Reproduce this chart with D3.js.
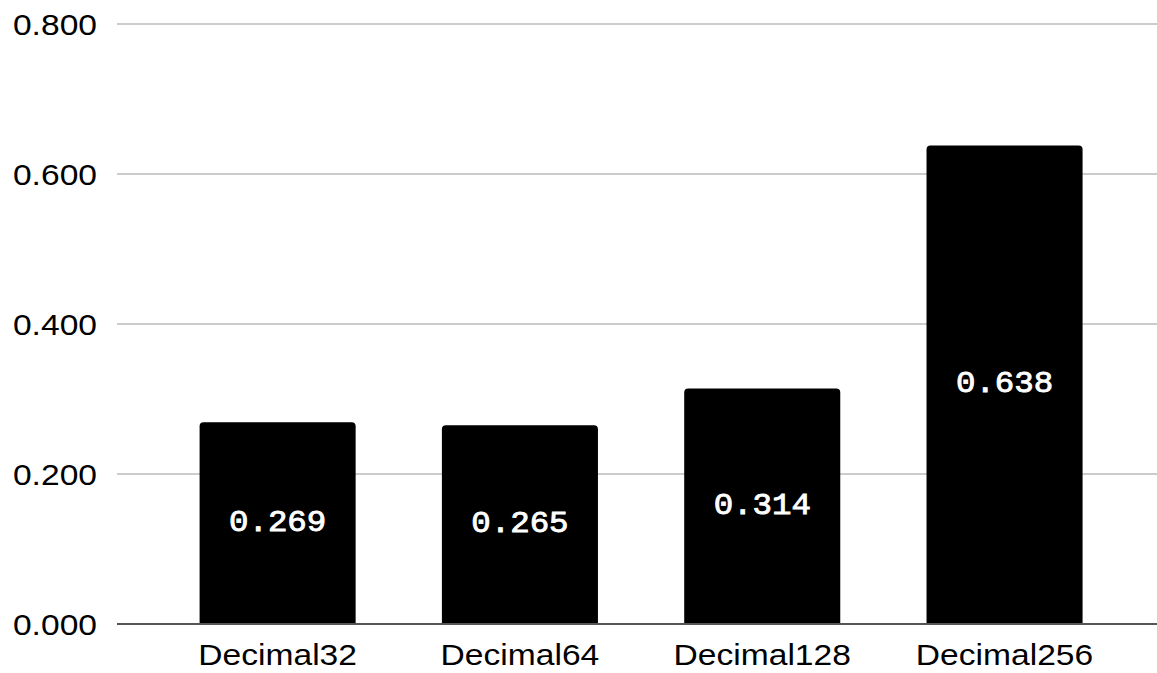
<!DOCTYPE html>
<html>
<head>
<meta charset="utf-8">
<script src="https://cdn.jsdelivr.net/npm/d3@7"></script>
<style>
  html, body { margin: 0; padding: 0; background: #fff; }
  svg { display: block; }
</style>
</head>
<body>
<div id="chart"></div>
<script>
// 数据
const categories = ['Decimal32', 'Decimal64', 'Decimal128', 'Decimal256'];
const values = [0.269, 0.265, 0.314, 0.638];
const yTicks = [0, 0.2, 0.4, 0.6, 0.8];

const width = 1157, height = 673;
const margin = { top: 24, right: 0, bottom: 48, left: 117 };
const sx = 1.12; // 文字横向拉伸

const svg = d3.select('#chart').append('svg')
    .attr('width', width).attr('height', height);

const x = d3.scaleBand()
    .domain(categories)
    .range([margin.left, width - margin.right])
    .paddingInner(0.356)
    .paddingOuter(0.324)
    .align(0.526);

const y = d3.scaleLinear()
    .domain([0, 0.8])
    .range([height - margin.bottom - 1, margin.top]);

// 网格线
svg.append('g').selectAll('line')
    .data(yTicks.slice(1))
    .join('line')
    .attr('x1', margin.left).attr('x2', width)
    .attr('y1', d => y(d)).attr('y2', d => y(d))
    .attr('stroke', '#cccccc').attr('stroke-width', 2);

// y 轴标签
svg.append('g').selectAll('text')
    .data(yTicks)
    .join('text')
    .attr('transform', d => `translate(${97},${y(d) + 11}) scale(${sx},1)`)
    .attr('text-anchor', 'end')
    .attr('font-family', 'Liberation Sans, Arial, sans-serif')
    .attr('font-size', 30)
    .attr('fill', '#000')
    .text(d3.format('.3f'));

// 柱子（仅上方圆角）
const r = 4;
const barPath = (x0, y0, w, y1) =>
    `M${x0},${y1}V${y0 + r}Q${x0},${y0} ${x0 + r},${y0}H${x0 + w - r}Q${x0 + w},${y0} ${x0 + w},${y0 + r}V${y1}Z`;

svg.append('g').selectAll('path')
    .data(values)
    .join('path')
    .attr('d', (d, i) => barPath(x(categories[i]), y(d), x.bandwidth(), y(0)))
    .attr('fill', '#000');

// 柱内数值
svg.append('g').selectAll('text')
    .data(values)
    .join('text')
    .attr('transform', (d, i) => {
        const cx = x(categories[i]) + x.bandwidth() / 2;
        const cy = (y(d) + y(0)) / 2 - 2.5;
        return `translate(${cx},${cy + 10}) scale(1.08,1)`;
    })
    .attr('text-anchor', 'middle')
    .attr('font-family', 'Liberation Mono, Courier New, monospace')
    .attr('font-size', 30)
    .attr('fill', '#fff')
    .attr('stroke', '#fff')
    .attr('stroke-width', 0.9)
    .text(d => d3.format('.3f')(d));

// 基线
svg.append('line')
    .attr('x1', margin.left).attr('x2', width)
    .attr('y1', y(0)).attr('y2', y(0))
    .attr('stroke', '#555').attr('stroke-width', 2);

// x 轴标签
svg.append('g').selectAll('text')
    .data(categories)
    .join('text')
    .attr('transform', d => `translate(${x(d) + x.bandwidth() / 2},${665}) scale(${sx},1)`)
    .attr('text-anchor', 'middle')
    .attr('font-family', 'Liberation Sans, Arial, sans-serif')
    .attr('font-size', 30)
    .attr('fill', '#000')
    .text(d => d);
</script>
</body>
</html>
